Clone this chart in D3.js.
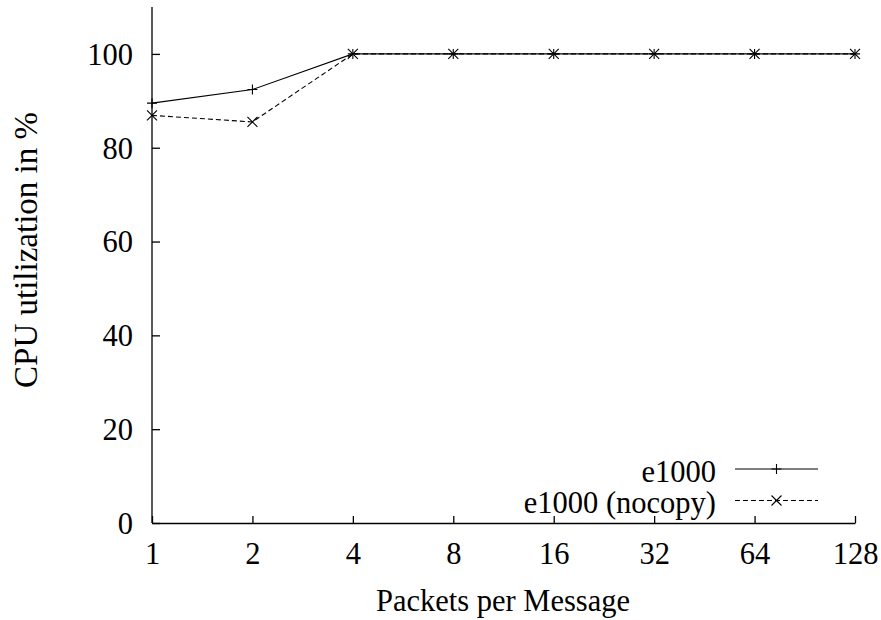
<!DOCTYPE html>
<html>
<head>
<meta charset="utf-8">
<script src="https://cdn.jsdelivr.net/npm/d3@7"></script>
<style>
  html, body { margin: 0; padding: 0; background: #fff; }
  svg { display: block; }
</style>
</head>
<body>
<svg id="chart" width="881" height="620"></svg>
<script>
const packets = [1, 2, 4, 8, 16, 32, 64, 128];
const e1000 = [89.5, 92.4, 100, 100, 100, 100, 100, 100];
const e1000Nocopy = [86.9, 85.5, 100, 100, 100, 100, 100, 100];
const yTicks = [0, 20, 40, 60, 80, 100];
const seriesNames = ["e1000", "e1000 (nocopy)"];

(function () {
const svg = d3.select("#chart");
const mLeft = 152, mRight = 855, mTop = 7, mBottom = 523;
const FONT = "'Liberation Serif', serif";
const fs = 30.5;

const x = d3.scaleLog().base(2).domain([1, 128]).range([mLeft, mRight]);
const y = d3.scaleLinear().domain([0, 110]).range([mBottom, mTop]);

function styleText(sel, size) {
  return sel.style("font-family", FONT).style("font-size", (size || fs) + "px").style("fill", "#000");
}

// Y axis
const yAxis = d3.axisLeft(y).tickValues(yTicks).tickSizeInner(-8).tickSizeOuter(0);
const gy = svg.append("g").attr("transform", `translate(${mLeft},0)`).call(yAxis);
gy.select(".domain").attr("stroke", "#000").attr("stroke-width", 1.3).attr("d", `M0,${mTop}V${mBottom}`);
gy.selectAll(".tick line").attr("stroke", "#000").attr("stroke-width", 1.3);
styleText(gy.selectAll(".tick text")).attr("x", -19).attr("dy", "0.34em");

// X axis
const xAxis = d3.axisBottom(x).tickValues(packets).tickFormat(d3.format("d")).tickSizeInner(-7).tickSizeOuter(0);
const gx = svg.append("g").attr("transform", `translate(0,${mBottom})`).call(xAxis);
gx.select(".domain").attr("stroke", "#000").attr("stroke-width", 1.3);
gx.selectAll(".tick line").attr("stroke", "#000").attr("stroke-width", 1.3);
styleText(gx.selectAll(".tick text")).attr("y", 41).attr("dy", 0);

// Axis titles
styleText(svg.append("text")).attr("x", 503).attr("y", 611).attr("text-anchor", "middle")
  .text("Packets per Message");
styleText(svg.append("text"), 33).attr("transform", `translate(37,250) rotate(-90)`)
  .attr("text-anchor", "middle").text("CPU utilization in %");

const line = d3.line().x(d => x(d[0])).y(d => y(d[1]));

function plus(g, cx, cy) {
  g.append("path").attr("d", `M${cx - 5},${cy}H${cx + 5}M${cx},${cy - 5}V${cy + 5}`)
    .attr("stroke", "#000").attr("stroke-width", 1.1).attr("fill", "none");
}
function cross(g, cx, cy) {
  g.append("path").attr("d", `M${cx - 5},${cy - 5}L${cx + 5},${cy + 5}M${cx - 5},${cy + 5}L${cx + 5},${cy - 5}`)
    .attr("stroke", "#000").attr("stroke-width", 1.1).attr("fill", "none");
}

const s1 = packets.map((p, i) => [p, e1000[i]]);
const s2 = packets.map((p, i) => [p, e1000Nocopy[i]]);

const plot = svg.append("g");
plot.append("path").datum(s1).attr("d", line).attr("fill", "none").attr("stroke", "#000").attr("stroke-width", 1.1);
plot.append("path").datum(s2).attr("d", line).attr("fill", "none").attr("stroke", "#000").attr("stroke-width", 1.1)
  .attr("stroke-dasharray", "5,3");
s1.forEach(d => plus(plot, x(d[0]), y(d[1])));
s2.forEach(d => cross(plot, x(d[0]), y(d[1])));

// Legend
const legend = svg.append("g");
const rows = [469, 500.5];
rows.forEach((ry, i) => {
  styleText(legend.append("text")).attr("x", 716).attr("y", ry + 12.5).attr("text-anchor", "end")
    .text(seriesNames[i]);
  const l = legend.append("line").attr("x1", 735).attr("x2", 818).attr("y1", ry).attr("y2", ry)
    .attr("stroke", "#000").attr("stroke-width", 1.1);
  if (i === 1) l.attr("stroke-dasharray", "5,3");
  if (i === 0) plus(legend, 776.5, ry); else cross(legend, 776.5, ry);
});
})();
</script>
</body>
</html>
